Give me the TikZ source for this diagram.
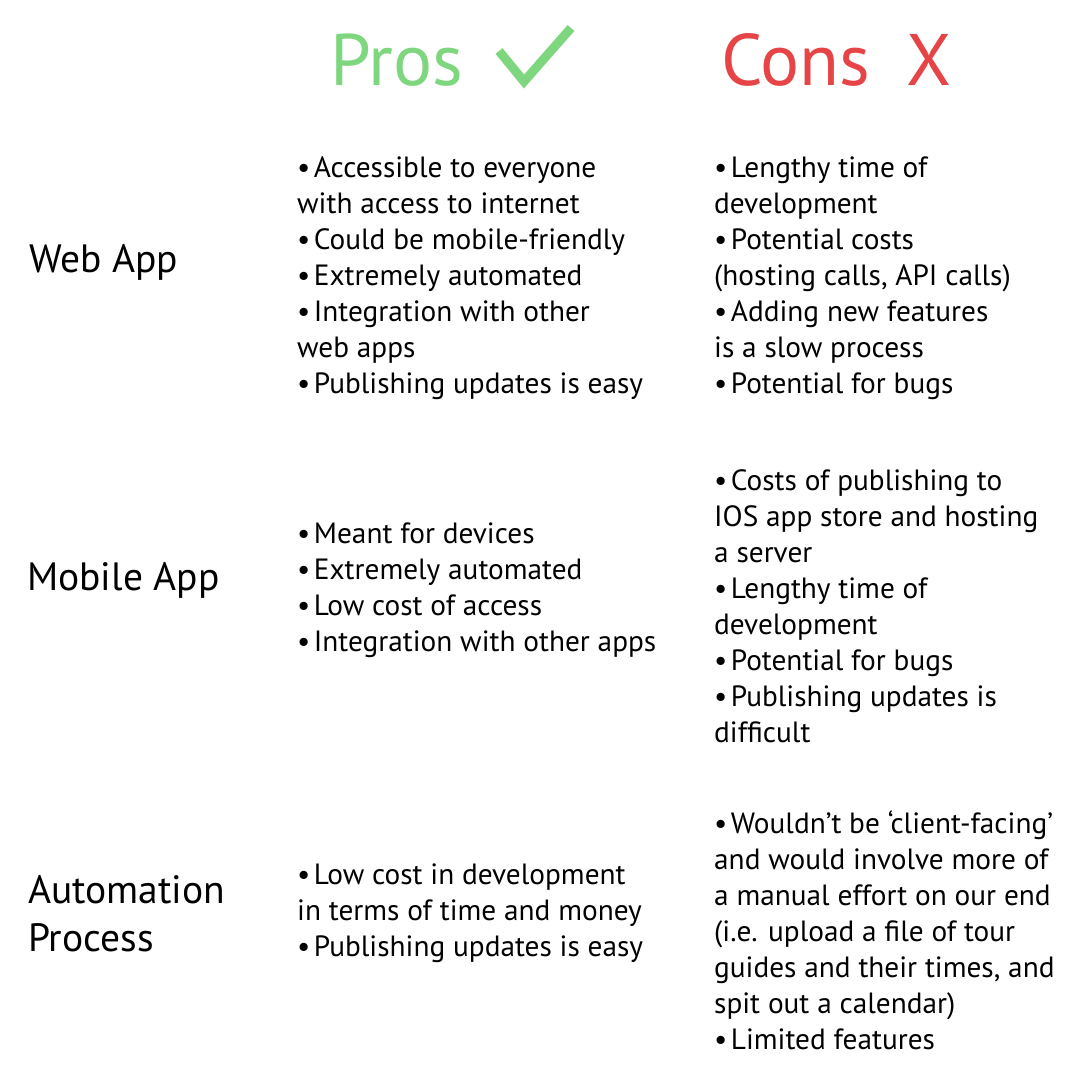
\documentclass[tikz,border=0pt]{standalone}
\usepackage{fontspec}
\setmainfont{PT Sans}
\definecolor{progreen}{RGB}{126,214,126}
\definecolor{conred}{RGB}{230,68,70}
\newcommand\bodyfont{\fontsize{29.3}{36}\selectfont}
\newcommand\labelfont{\fontsize{39.5}{48}\selectfont}
\newcommand\headfont{\fontsize{73}{80}\selectfont}
\newcommand\bul{•\kern3.5pt}
\begin{document}
\begin{tikzpicture}[x=1pt,y=-1pt,
  body/.style={anchor=north west, inner sep=0pt, align=left, font=\bodyfont},
  rowlabel/.style={anchor=north west, inner sep=0pt, align=left, font=\labelfont},
  head/.style={anchor=base west, inner sep=0pt, font=\headfont}]
\useasboundingbox[fill=white] (0,0) rectangle (1080,1080);

% headers
\node[head, text=progreen] (pros) at (330,85) {Pros};
\node[head, text=conred] (cons) at (721,85) {Cons};
\node[head, text=conred] (x) at (906,85) {X};
\draw[progreen, line width=9pt] (499,51) -- (524,81.5) -- (571,28);

% row labels
\node[rowlabel] (web) at (29,272-33.6) {\strut Web App};
\node[rowlabel] (mobile) at (27,590-33.6) {\strut Mobile App};
\node[rowlabel] (auto) at (28,903-33.6) {\strut Automation\\Process};

% web app
\node[body] (webpros) at (297,177-25.2) {\strut \bul Accessible to everyone\\with access to internet\\\bul Could be mobile-friendly\\\bul Extremely automated\\\bul Integration with other\\web apps\\\bul Publishing updates is easy};
\node[body] (webcons) at (714,177-25.2) {\strut \bul Lengthy time of\\development\\\bul Potential costs\\(hosting calls, API calls)\\\bul Adding new features\\is a slow process\\\bul Potential for bugs};

% mobile app
\node[body] (mobpros) at (297,543-25.2) {\strut \bul Meant for devices\\\bul Extremely automated\\\bul Low cost of access\\\bul Integration with other apps};
\node[body] (mobcons) at (714,490-25.2) {\strut \bul Costs of publishing to\\IOS app store and hosting\\a server\\\bul Lengthy time of\\development\\\bul Potential for bugs\\\bul Publishing updates is\\difficult};

% automation
\node[body] (autopros) at (297,884-25.2) {\strut \bul Low cost in development\\in terms of time and money\\\bul Publishing updates is easy};
\node[body] (autocons) at (714,833-25.2) {\strut \bul Wouldn’t be ‘client-facing’\\and would involve more of\\a manual effort on our end\\(i.e. upload a file of tour\\guides and their times, and\\spit out a calendar)\\\bul Limited features};
\end{tikzpicture}
\end{document}
